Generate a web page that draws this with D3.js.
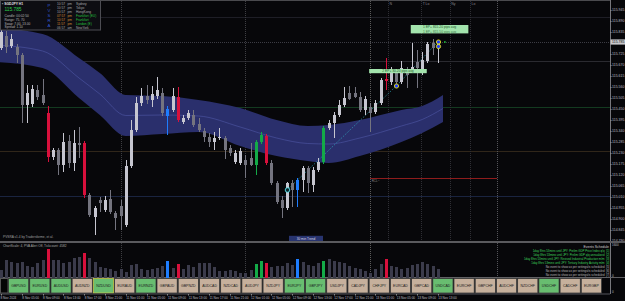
<!DOCTYPE html>
<html>
<head>
<meta charset="utf-8">
<script src="https://cdn.jsdelivr.net/npm/d3@7"></script>
<style>
html, body { margin: 0; padding: 0; background: #07070a; overflow: hidden; }
svg { display: block; font-family: "Liberation Sans", Arial, sans-serif; }
</style>
</head>
<body>
<svg id="chart" width="625" height="301"></svg>
<script>
var symbol = "SGDJPY H1";

// hourly candles, 8 Nov 01:00 .. 13 Nov 12:00
var opens = [115.755,115.815,115.765,115.760,115.720,115.470,115.475,115.545,115.520,115.430,
115.210,115.245,115.170,115.290,115.180,115.280,115.280,115.020,114.910,114.995,
114.945,115.000,114.930,114.965,114.870,115.165,115.345,115.480,115.515,115.495,
115.515,115.530,115.415,115.445,115.510,115.385,115.405,115.420,115.375,115.340,
115.310,115.285,115.305,115.305,115.255,115.185,115.180,115.195,115.205,115.170,
115.285,115.315,115.180,115.080,114.995,114.955,115.080,115.045,115.095,115.155,
115.070,115.145,115.185,115.355,115.380,115.420,115.470,115.530,115.530,115.510,
115.445,115.460,115.435,115.480,115.600,115.585,115.630,115.585,115.645,115.645,
115.685,115.650,115.690,115.780,115.760];
var highs = [115.845,115.840,115.825,115.775,115.730,115.570,115.570,115.570,115.600,115.465,
115.255,115.255,115.330,115.320,115.345,115.360,115.290,115.030,114.965,115.010,
115.015,115.045,114.940,114.995,115.195,115.395,115.510,115.555,115.570,115.565,
115.610,115.555,115.465,115.555,115.560,115.420,115.445,115.445,115.405,115.355,
115.330,115.335,115.355,115.315,115.270,115.245,115.255,115.220,115.280,115.295,
115.335,115.325,115.195,115.090,115.015,115.085,115.095,115.105,115.165,115.165,
115.160,115.205,115.365,115.395,115.435,115.495,115.560,115.565,115.560,115.535,
115.515,115.480,115.495,115.605,115.705,115.660,115.645,115.690,115.660,115.780,
115.745,115.735,115.785,115.800,115.795];
var lows = [115.745,115.730,115.755,115.680,115.380,115.380,115.460,115.495,115.470,115.185,
115.195,115.120,115.135,115.155,115.140,115.205,115.005,114.910,114.820,114.935,
114.935,114.925,114.845,114.845,114.860,115.155,115.335,115.465,115.475,115.460,
115.500,115.415,115.320,115.435,115.385,115.375,115.395,115.360,115.335,115.285,
115.260,115.245,115.295,115.200,115.215,115.175,115.170,115.105,115.165,115.120,
115.275,115.170,115.070,114.975,114.905,114.945,114.960,114.960,115.035,115.030,
115.035,115.135,115.175,115.345,115.305,115.410,115.460,115.495,115.505,115.435,
115.420,115.335,115.425,115.470,115.545,115.570,115.555,115.575,115.555,115.635,
115.555,115.620,115.680,115.720,115.680];
var closes = [115.835,115.760,115.800,115.720,115.470,115.530,115.550,115.510,115.480,115.210,
115.245,115.170,115.285,115.180,115.280,115.270,115.020,114.920,114.955,114.980,
114.995,114.935,114.905,114.915,115.165,115.345,115.480,115.515,115.495,115.525,
115.545,115.430,115.450,115.515,115.395,115.405,115.430,115.370,115.345,115.310,
115.285,115.305,115.310,115.245,115.230,115.230,115.240,115.170,115.170,115.285,
115.320,115.180,115.080,114.985,114.955,115.080,115.045,115.095,115.155,115.080,
115.145,115.185,115.355,115.380,115.420,115.470,115.505,115.500,115.510,115.445,
115.500,115.430,115.480,115.595,115.590,115.635,115.585,115.655,115.620,115.660,
115.655,115.695,115.775,115.755,115.785];
var volumes = [800,1800,1600,1500,1600,1200,1100,1500,1800,2900,
1800,1800,1500,1600,2000,2100,2500,2000,1600,1100,
1000,900,700,900,600,1300,1400,900,800,900,
1000,1200,1700,1000,1400,900,1300,1100,1500,1500,
1500,1100,700,700,800,700,500,500,800,1400,
1700,1500,1100,1200,1200,1500,1300,1900,1600,1300,
1200,1500,1700,1900,1700,1600,1500,1200,1000,900,
700,500,900,1400,1900,1200,1100,900,1000,1300,
1400,1600,1400,1200,900];
// n = normal, r = climax bear, g = climax bull, b = rising volume bull
var kinds = ("nnnnnnnnnr" + "nnnnnnrnnn" + "nnnnnnnnnn" + "nnbnrnnnnn" + "nnnnnnnnng" +
             "grnnnnnbnn" + "nngnnnnnnn" + "nnnnrnnnnn" + "nnnnn").split("");

// envelope around the moving average
var bandIdx = [-1, 8, 15, 19, 24, 31, 38, 46, 53, 59, 63, 69, 77, 81, 85];
var bandTop = [115.855,115.825,115.705,115.630,115.520,115.515,115.495,115.455,115.395,115.365,115.370,115.395,115.445,115.465,115.520];
var bandBot = [115.685,115.655,115.505,115.420,115.315,115.325,115.335,115.265,115.215,115.190,115.180,115.215,115.285,115.330,115.385];

var priceTicks = [115.945,115.890,115.835,115.725,115.670,115.615,115.560,115.505,115.450,115.395,115.340,
115.285,115.230,115.175,115.120,115.065,115.010,114.955,114.900,114.845,114.790];
var gridLevels = [115.910, 115.690, 115.460, 115.240, 115.015];

var timeIdx = [0,4,8,12,16,20,24,28,32,36,40,44,48,52,56,60,64,68,72,76,80,84];
var timeLabels = ["8 Nov 2024","8 Nov 05:00","8 Nov 09:00","8 Nov 13:00","8 Nov 17:00","8 Nov 21:00",
"11 Nov 01:00","11 Nov 05:00","11 Nov 09:00","11 Nov 13:00","11 Nov 17:00","11 Nov 21:00",
"12 Nov 01:00","12 Nov 05:00","12 Nov 09:00","12 Nov 13:00","12 Nov 17:00","12 Nov 21:00",
"13 Nov 01:00","13 Nov 05:00","13 Nov 09:00","13 Nov 13:00"];

var dayIdx = [23, 47, 71];
var sessIdx = [74.4, 80.8, 86.3, 90.2];
var sessLabels = ["N", "T  Lo", "Ny", "Lo"];
var nowIdx = 95.4;
var rclIdx = [71, 95.4], rclPrice = 115.105;

var markIdx = [55, 76, 84, 84];
var markPrice = [115.045, 115.565, 115.785, 115.7625];
var markType = ["cyan", "gold", "gold", "gold"];
var trendIdx = [55, 76, 84];
var trendPrice = [115.045, 115.565, 115.785];

var epIdx = [78.8, 70.8];
var epPrice = [115.870, 115.650];
var epText = [["1 EP+ 815.20 pips avg", "1 EP+ 815.50 pips avg"], ["2 EP+ 30.20 pips avg"]];

var pairs = ["GBPUSD","EURUSD","AUDUSD","AUDNZD","NZDUSD","EURAUD","EURNZD","GBPAUD","GBPNZD","AUDCAD",
"NZDCAD","AUDJPY","NZDJPY","EURJPY","GBPJPY","USDJPY","CADJPY","CHFJPY","EURCAD","GBPCAD",
"USDCAD","EURCHF","GBPCHF","AUDCHF","NZDCHF","USDCHF","CADCHF","EURGBP"];
var greenPairs = ["GBPUSD","EURUSD","AUDUSD","NZDUSD","EURNZD","EURJPY","GBPJPY","USDCAD","USDCHF"];

var infoLeft = ["Candle: 00:02:50", "Range: 75, 70", "Swap: 7.00, 13.00", "Spread: 1.10"];
var sessTimes = ["10:57","10:57","10:57","07:57","10:57","11:57","06:57"];
var sessAmPm = ["pm","pm","pm","pm","pm","pm","am"];
var sessNames = ["Sydney","Tokyo","HongKong","Frankfurt (EU)","Frankfurt","London (E)","NewYork"];
var sessOpen = [0,0,0,1,1,1,0];

var events = ["1day 8hrs 53mins until JPY: Prelim GDP Price Index q/q",
"1day 8hrs 53mins until JPY: Prelim GDP q/q annualized",
"1day 8hrs 53mins until JPY: Revised Industrial Production m/m",
"1day 8hrs 53mins until JPY: Tertiary Industry Activity m/m",
"No event to show as per settings/is scheduled",
"No event to show as per settings/is scheduled",
"No event to show as per settings/is scheduled"];

var plotRight = 610;
var svg = d3.select("#chart");
var x = d3.scaleLinear().domain([0, 84]).range([1, 437.8]);
var y = d3.scaleLinear().domain([114.790, 115.945]).range([241, 10]);
var yVol = d3.scaleLinear().domain([0, 3000]).range([278, 248]);
var idx = d3.range(opens.length);
var bid = closes[closes.length - 1];

function candleColor(i) {
    if (kinds[i] === "r") return "#d8103c";
    if (kinds[i] === "g") return "#14aa48";
    if (kinds[i] === "b") return "#1e7dff";
    return closes[i] >= opens[i] ? "#c6c6d0" : "#74747f";
}
function volColor(i) {
    if (kinds[i] === "n") return "#3b3b4b";
    return candleColor(i);
}

svg.append("rect").attr("width", 625).attr("height", 301).attr("fill", "#07070a");
svg.append("clipPath").attr("id", "mainClip").append("rect")
    .attr("x", 0).attr("y", 1).attr("width", plotRight).attr("height", 240);

// horizontal levels
var gridColors = ["#1e1e26", "#2a2a30", "#133a20", "#30261a", "#1a2440"];
svg.selectAll(".grid").data(gridLevels).enter().append("line")
    .attr("x1", 0).attr("x2", plotRight)
    .attr("y1", function (d) { return Math.round(y(d)) + 0.5; })
    .attr("y2", function (d) { return Math.round(y(d)) + 0.5; })
    .attr("stroke", function (d, i) { return gridColors[i]; });

// bid line
svg.append("line").attr("x1", 0).attr("x2", plotRight)
    .attr("y1", y(bid) + 0.5).attr("y2", y(bid) + 0.5)
    .attr("stroke", "#3c3c44").attr("stroke-dasharray", "1,1");

// day and session separators
svg.selectAll(".day").data(dayIdx).enter().append("line")
    .attr("x1", function (d) { return Math.round(x(d)) + 0.5; })
    .attr("x2", function (d) { return Math.round(x(d)) + 0.5; })
    .attr("y1", 1).attr("y2", 277)
    .attr("stroke", function (d, i) { return i === 2 ? "#5a5a5a" : "#3e3e42"; })
    .attr("stroke-dasharray", "1,1");
svg.selectAll(".sess").data(sessIdx).enter().append("line")
    .attr("x1", function (d) { return Math.round(x(d)) + 0.5; })
    .attr("x2", function (d) { return Math.round(x(d)) + 0.5; })
    .attr("y1", 1).attr("y2", 241)
    .attr("stroke", "#2e2e34").attr("stroke-dasharray", "1,1");
svg.append("line")
    .attr("x1", Math.round(x(nowIdx)) + 0.5).attr("x2", Math.round(x(nowIdx)) + 0.5)
    .attr("y1", 1).attr("y2", 277)
    .attr("stroke", "#55555a").attr("stroke-dasharray", "1,1");
svg.selectAll(".sessLbl").data(sessIdx).enter().append("text")
    .attr("x", function (d) { return x(d) + 1.5; }).attr("y", 4.5)
    .attr("font-size", 3.4).attr("fill", "#8a8a90")
    .text(function (d, i) { return sessLabels[i]; });

// envelope band
var bandData = bandIdx.map(function (d, i) { return { i: d, hi: bandTop[i], lo: bandBot[i] }; });
var main = svg.append("g").attr("clip-path", "url(#mainClip)");
main.append("path").datum(bandData)
    .attr("fill", "#2a2f6c")
    .attr("d", d3.area().curve(d3.curveMonotoneX)
        .x(function (d) { return x(d.i); })
        .y0(function (d) { return y(d.lo); })
        .y1(function (d) { return y(d.hi); }));
main.append("path").datum(bandData)
    .attr("fill", "none").attr("stroke", "#4f57a6").attr("stroke-width", 0.6)
    .attr("d", d3.line().curve(d3.curveMonotoneX)
        .x(function (d) { return x(d.i); })
        .y(function (d) { return y((d.hi + d.lo) / 2); }));

// RCL line
main.append("line")
    .attr("x1", x(rclIdx[0])).attr("x2", x(rclIdx[1]))
    .attr("y1", Math.round(y(rclPrice)) + 0.5).attr("y2", Math.round(y(rclPrice)) + 0.5)
    .attr("stroke", "#8e1c1c");
main.append("text").attr("x", x(rclIdx[0]) + 1.5).attr("y", y(rclPrice) + 4)
    .attr("font-size", 3).attr("fill", "#8a8a8a").text("RCL~");

// trend dots
main.append("path").datum(trendIdx.map(function (d, i) { return [x(d), y(trendPrice[i])]; }))
    .attr("fill", "none").attr("stroke", "#2fb3c4").attr("stroke-width", 0.8)
    .attr("stroke-dasharray", "1,1.5")
    .attr("d", d3.line());

// candles
var candles = main.selectAll(".candle").data(idx).enter().append("g");
candles.append("line")
    .attr("x1", function (i) { return Math.round(x(i)) + 0.5; })
    .attr("x2", function (i) { return Math.round(x(i)) + 0.5; })
    .attr("y1", function (i) { return y(highs[i]); })
    .attr("y2", function (i) { return y(lows[i]); })
    .attr("stroke", candleColor);
candles.append("rect")
    .attr("x", function (i) { return Math.round(x(i)) - 1; })
    .attr("width", 3)
    .attr("y", function (i) { return y(Math.max(opens[i], closes[i])); })
    .attr("height", function (i) { return Math.max(1, Math.abs(y(opens[i]) - y(closes[i]))); })
    .attr("fill", candleColor);

// markers
markIdx.forEach(function (d, i) {
    main.append("circle").attr("cx", Math.round(x(d)) + 0.5).attr("cy", y(markPrice[i]))
        .attr("r", markType[i] === "cyan" ? 2.3 : 2.1)
        .attr("fill", markType[i] === "cyan" ? "#0b2a30" : "#1f3cff")
        .attr("stroke", markType[i] === "cyan" ? "#5fe6ef" : "#e7e21c")
        .attr("stroke-width", 0.9);
});
main.append("rect").attr("x", x(85.2)).attr("y", y(bid) - 0.8)
    .attr("width", 1.6).attr("height", 1.6).attr("fill", "#22c040");

// entry labels
epIdx.forEach(function (d, i) {
    var lines = epText[i];
    var bx = x(d), by = y(epPrice[i]);
    main.append("rect").attr("x", bx).attr("y", by)
        .attr("width", 57.6).attr("height", lines.length * 4.2)
        .attr("fill", "#a3e4ad");
    lines.forEach(function (t, j) {
        main.append("text").attr("x", bx + 28.8).attr("y", by + 2.2 + j * 4.2)
            .attr("dy", "0.35em").attr("text-anchor", "middle")
            .attr("font-size", 3.3).attr("fill", j === 0 ? "#1d5a2a" : "#3f7a4c").text(t);
    });
});

// info box
var info = svg.append("g");
info.append("rect").attr("x", 0.5).attr("y", 0.5).attr("width", 100).attr("height", 29.5)
    .attr("fill", "#0d0d12").attr("stroke", "#4c4c52");
info.append("text").attr("x", 2).attr("y", 4.2).attr("dy", "0.35em")
    .attr("font-size", 3.4).attr("font-weight", "bold").attr("fill", "#e0e0e0").text("\u25AA " + symbol);
info.append("text").attr("x", 4.5).attr("y", 9.8).attr("dy", "0.35em")
    .attr("font-size", 4.8).attr("fill", "#2ad04a").text(bid.toFixed(3));
info.selectAll(".il").data(infoLeft).enter().append("text")
    .attr("x", 4.5).attr("y", function (d, i) { return 15.6 + i * 3.9; }).attr("dy", "0.35em")
    .attr("font-size", 3.2).attr("fill", "#b8b8b8").text(function (d) { return d; });
info.selectAll(".pv").data("PVSRA".split("")).enter().append("text")
    .attr("x", 49).attr("y", function (d, i) { return 5 + i * 5; }).attr("dy", "0.35em")
    .attr("text-anchor", "middle").attr("font-size", 4.4).attr("fill", "#3458d0")
    .text(function (d) { return d; });
sessTimes.forEach(function (t, i) {
    var yy = 3.6 + i * 4;
    var tc = sessOpen[i] ? "#d88a32" : "#a8a8a8";
    info.append("text").attr("x", 57).attr("y", yy).attr("dy", "0.35em")
        .attr("font-size", 3.2).attr("fill", tc).text(t);
    info.append("text").attr("x", 67.5).attr("y", yy).attr("dy", "0.35em")
        .attr("font-size", 3.2).attr("fill", tc).text(sessAmPm[i]);
    info.append("text").attr("x", 76).attr("y", yy).attr("dy", "0.35em")
        .attr("font-size", 3.2).attr("fill", sessOpen[i] ? "#26c040" : "#a8a8a8").text(sessNames[i]);
});

svg.append("text").attr("x", 3).attr("y", 237).attr("dy", "0.35em")
    .attr("font-size", 3.2).attr("fill", "#a0a0a0").text("PVSRA v1.4 by Tradersforme, et al.");
svg.append("rect").attr("x", 289).attr("y", 235.8).attr("width", 34).attr("height", 5.2).attr("fill", "#28346f");
svg.append("text").attr("x", 306).attr("y", 238.4).attr("dy", "0.35em").attr("text-anchor", "middle")
    .attr("font-size", 3.2).attr("fill", "#d8d8e8").text("30 min Trend");

// price axis
svg.append("line").attr("x1", plotRight + 0.5).attr("x2", plotRight + 0.5).attr("y1", 0).attr("y2", 294)
    .attr("stroke", "#77777c");
svg.append("line").attr("x1", 0).attr("x2", plotRight).attr("y1", 0.5).attr("y2", 0.5).attr("stroke", "#4a4a4e");
svg.selectAll(".ptick").data(priceTicks).enter().append("line")
    .attr("x1", plotRight).attr("x2", plotRight + 1.5)
    .attr("y1", function (d) { return Math.round(y(d)) + 0.5; })
    .attr("y2", function (d) { return Math.round(y(d)) + 0.5; })
    .attr("stroke", "#888");
svg.selectAll(".plbl").data(priceTicks).enter().append("text")
    .attr("x", 612).attr("y", function (d) { return y(d); }).attr("dy", "0.35em")
    .attr("font-size", 3.5).attr("fill", "#bdbdc2")
    .text(function (d) { return d.toFixed(3); });
svg.append("rect").attr("x", 610.5).attr("y", y(bid) - 2.6).attr("width", 14.5).attr("height", 5.2).attr("fill", "#c8c8cc");
svg.append("text").attr("x", 612).attr("y", y(bid)).attr("dy", "0.35em")
    .attr("font-size", 3.5).attr("fill", "#111").text(bid.toFixed(3));

// panel separators
svg.append("rect").attr("x", 0).attr("y", 241).attr("width", 625).attr("height", 2).attr("fill", "#5a5a5e");
svg.append("line").attr("x1", 0).attr("x2", 625).attr("y1", 277.5).attr("y2", 277.5).attr("stroke", "#606064");

// volume panel
svg.append("text").attr("x", 3).attr("y", 246.3).attr("dy", "0.35em")
    .attr("font-size", 3.2).attr("fill", "#a8a8a8").text("ChartScale: 4, PVA Alert Off, Tickcount: 4582");
svg.selectAll(".vol").data(idx).enter().append("rect")
    .attr("x", function (i) { return Math.round(x(i)) - 1; })
    .attr("width", 3)
    .attr("y", function (i) { return yVol(volumes[i]); })
    .attr("height", function (i) { return yVol(0) - yVol(volumes[i]); })
    .attr("fill", volColor);
svg.append("text").attr("x", 612).attr("y", 245).attr("dy", "0.35em")
    .attr("font-size", 3).attr("fill", "#bdbdc2").text("1600");
svg.append("text").attr("x", 612).attr("y", 275.5).attr("dy", "0.35em")
    .attr("font-size", 3).attr("fill", "#bdbdc2").text("0");
svg.append("text").attr("x", 612).attr("y", 291.5).attr("dy", "0.35em")
    .attr("font-size", 3).attr("fill", "#bdbdc2").text("0");

// events schedule
svg.append("text").attr("x", 609).attr("y", 246.5).attr("dy", "0.35em").attr("text-anchor", "end")
    .attr("font-size", 3.4).attr("fill", "#cfcfcf").text("Events Schedule");
events.forEach(function (t, i) {
    var yy = 250.8 + i * 4;
    var c = i < 4 ? "#3ed45c" : "#b8b8b8";
    svg.append("text").attr("x", 604.5).attr("y", yy).attr("dy", "0.35em").attr("text-anchor", "end")
        .attr("font-size", 2.9).attr("fill", c).text(t);
    svg.append("text").attr("x", 606.2).attr("y", yy).attr("dy", "0.35em")
        .attr("font-size", 2.9).attr("fill", c).text("[" + (i + 1) + "]");
});

// pair buttons
var bx = d3.scaleBand().domain(pairs).range([8, 602]);
svg.append("rect").attr("x", 0.5).attr("y", 278.5).attr("width", 7.5).attr("height", 14.5)
    .attr("fill", "#050505").attr("stroke", "#555");
var btn = svg.selectAll(".btn").data(pairs).enter().append("g");
btn.append("rect")
    .attr("x", function (d) { return bx(d) + 0.5; }).attr("y", 278.5)
    .attr("width", bx.bandwidth() - 1).attr("height", 14.5)
    .attr("fill", function (d) { return greenPairs.indexOf(d) >= 0 ? "#68bd70" : "#c6b09c"; })
    .attr("stroke", function (d) { return d === "NZDUSD" ? "#c9c84a" : "#3c3c3c"; })
    .attr("stroke-width", 0.8);
btn.append("text")
    .attr("x", function (d) { return bx(d) + bx.bandwidth() / 2; }).attr("y", 285.8)
    .attr("dy", "0.35em").attr("text-anchor", "middle")
    .attr("font-size", 3.5).attr("fill", "#202020")
    .text(function (d) { return d; });

// time axis
svg.append("line").attr("x1", 0).attr("x2", plotRight).attr("y1", 294).attr("y2", 294).attr("stroke", "#55555a");
svg.selectAll(".tt").data(timeIdx).enter().append("line")
    .attr("x1", function (d) { return Math.round(x(d)) + 0.5; })
    .attr("x2", function (d) { return Math.round(x(d)) + 0.5; })
    .attr("y1", 294).attr("y2", 295.5).attr("stroke", "#888");
svg.selectAll(".tl").data(timeIdx).enter().append("text")
    .attr("x", function (d, i) { return i === 0 ? 0.5 : x(d) + 0.5; }).attr("y", 297.6)
    .attr("dy", "0.35em").attr("font-size", 3.1).attr("fill", "#bdbdc2")
    .text(function (d, i) { return timeLabels[i]; });
</script>
</body>
</html>
